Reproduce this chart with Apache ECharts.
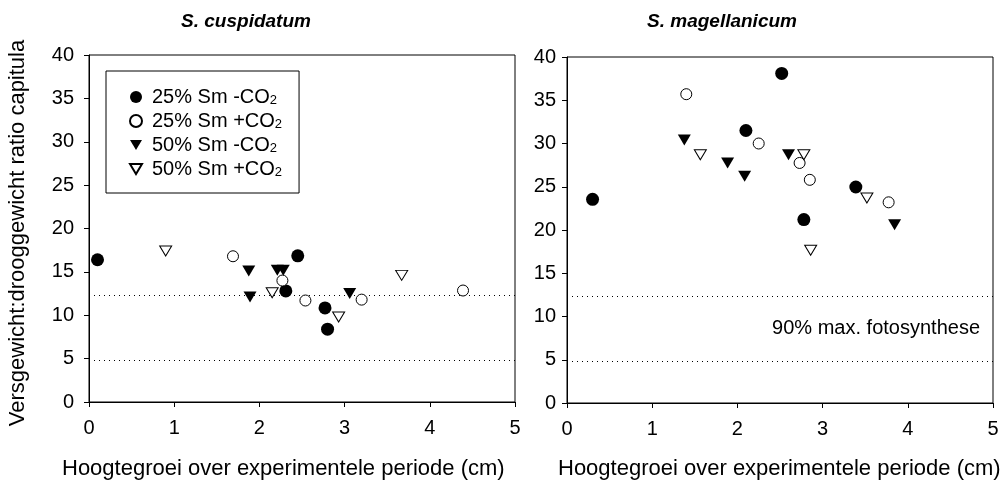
<!DOCTYPE html>
<html>
<head>
<meta charset="utf-8">
<script src="https://cdn.jsdelivr.net/npm/echarts@6/dist/echarts.min.js"></script>
<style>
html,body{margin:0;padding:0;background:#fff;}
#chart{width:1004px;height:486px;}
</style>
</head>
<body>
<div id="chart"></div>
<script>
// ---- data ----
const seriesNames = ['25% Sm -CO2', '25% Sm +CO2', '50% Sm -CO2', '50% Sm +CO2'];
const panelTitles = ['S. cuspidatum', 'S. magellanicum'];
const xTitle = 'Hoogtegroei over experimentele periode (cm)';
const yTitle = 'Versgewicht:drooggewicht ratio capitula';
const annotation = '90% max. fotosynthese';
const refLines = [12.3, 4.8];

// S. cuspidatum
const cusp_25_min = [[0.10, 16.4], [2.31, 12.8], [2.45, 16.85], [2.77, 10.85], [2.80, 8.4]];
const cusp_25_plus = [[1.69, 16.8], [2.27, 14.0], [2.54, 11.7], [3.20, 11.8], [4.39, 12.85]];
const cusp_50_min = [[1.875, 15.1], [1.89, 12.1], [2.21, 15.2], [2.28, 15.2], [3.06, 12.5]];
const cusp_50_plus = [[0.90, 17.4], [2.15, 12.6], [2.93, 9.8], [3.67, 14.6]];

// S. magellanicum
const mag_25_min = [[0.30, 23.55], [2.10, 31.5], [2.52, 38.1], [2.78, 21.2], [3.39, 24.97]];
const mag_25_plus = [[1.40, 35.7], [2.25, 30.0], [2.73, 27.75], [2.85, 25.8], [3.775, 23.2]];
const mag_50_min = [[1.377, 30.4], [1.885, 27.75], [2.085, 26.2], [2.60, 28.7], [3.845, 20.6]];
const mag_50_plus = [[1.565, 28.7], [2.78, 28.7], [3.52, 23.7], [2.86, 17.65]];

// ---- styles ----
const FONT = 'Liberation Sans, Arial, sans-serif';
const TRI_DOWN = 'path://M0,0 L20,0 L10,17 Z';
const styles = [
  {symbol: 'circle', symbolSize: 13, symbolRotate: 0, itemStyle: {color: '#000', borderColor: '#000', borderWidth: 0, opacity: 1}},
  {symbol: 'circle', symbolSize: 11, symbolRotate: 0, itemStyle: {color: '#fff', borderColor: '#000', borderWidth: 1, opacity: 1}},
  {symbol: 'triangle', symbolSize: [13, 11], symbolRotate: 180, itemStyle: {color: '#000', borderColor: '#000', borderWidth: 0, opacity: 1}},
  {symbol: 'triangle', symbolSize: [12, 10], symbolRotate: 180, itemStyle: {color: '#fff', borderColor: '#000', borderWidth: 1, opacity: 1}}
];
const legendIcons = ['circle', 'circle', TRI_DOWN, TRI_DOWN];

const panels = [
  [cusp_25_min, cusp_25_plus, cusp_50_min, cusp_50_plus],
  [mag_25_min, mag_25_plus, mag_50_min, mag_50_plus]
];

const series = [];
panels.forEach((sets, p) => {
  series.push({
    type: 'line', xAxisIndex: p, yAxisIndex: p, data: [], silent: true,
    markLine: {
      silent: true, symbol: 'none', animation: false,
      label: {show: false},
      lineStyle: {color: '#000', width: 1, type: [1, 4], opacity: 1},
      data: refLines.map(v => ({yAxis: v}))
    }
  });
  sets.forEach((d, i) => {
    series.push(Object.assign({
      type: 'scatter', name: seriesNames[i], xAxisIndex: p, yAxisIndex: p, data: d, z: 5
    }, styles[i]));
  });
});

function xAxis(grid) {
  return {
    type: 'value', gridIndex: grid, min: 0, max: 5, interval: 1,
    axisLine: {show: true, onZero: false, lineStyle: {color: '#000', width: 1}},
    axisTick: {show: true, inside: false, length: 5, lineStyle: {color: '#000'}},
    axisLabel: {color: '#000', fontSize: 20, fontFamily: FONT, margin: 16},
    splitLine: {show: false}
  };
}
function yAxis(grid, margin) {
  return {
    type: 'value', gridIndex: grid, min: 0, max: 40, interval: 5,
    axisLine: {show: true, onZero: false, lineStyle: {color: '#000', width: 1}},
    axisTick: {show: true, inside: false, length: 5, lineStyle: {color: '#000'}},
    axisLabel: {color: '#000', fontSize: 20, fontFamily: FONT, margin: margin},
    splitLine: {show: false}
  };
}

const chart = echarts.init(document.getElementById('chart'), null, {renderer: 'canvas'});
chart.setOption({
  animation: false,
  backgroundColor: '#fff',
  grid: [
    {left: 89, top: 55, width: 426, height: 347, show: true, borderColor: '#000', borderWidth: 1, backgroundColor: 'transparent'},
    {left: 567, top: 57, width: 426, height: 346, show: true, borderColor: '#000', borderWidth: 1, backgroundColor: 'transparent'}
  ],
  xAxis: [xAxis(0), xAxis(1)],
  yAxis: [yAxis(0, 15), yAxis(1, 11)],
  legend: {
    data: seriesNames.map((n, i) => ({name: n, icon: legendIcons[i]})),
    orient: 'vertical',
    left: 106, top: 71,
    padding: [16, 17, 14, 23],
    borderColor: '#000', borderWidth: 1,
    itemWidth: 12, itemHeight: 12, itemGap: 4,
    selectedMode: false,
    formatter: n => n.replace(/2$/, '{s|2}'),
    textStyle: {
      color: '#000', fontSize: 20, fontFamily: FONT, padding: [0, 0, 0, 5], lineHeight: 20,
      rich: {s: {fontSize: 13, fontFamily: FONT, color: '#000', verticalAlign: 'bottom', lineHeight: 20, padding: [6, 0, 0, 0]}}
    }
  },
  graphic: [
    {type: 'text', x: 246, y: 22, style: {text: panelTitles[0], align: 'center', verticalAlign: 'middle', font: 'italic bold 19px ' + FONT, fill: '#000'}},
    {type: 'text', x: 722, y: 22, style: {text: panelTitles[1], align: 'center', verticalAlign: 'middle', font: 'italic bold 19px ' + FONT, fill: '#000'}},
    {type: 'text', x: 62, y: 469, style: {text: xTitle, align: 'left', verticalAlign: 'middle', font: '22px ' + FONT, fill: '#000'}},
    {type: 'text', x: 558, y: 469, style: {text: xTitle, align: 'left', verticalAlign: 'middle', font: '22px ' + FONT, fill: '#000'}},
    {type: 'text', x: 18, y: 233, rotation: Math.PI / 2, style: {text: yTitle, align: 'center', verticalAlign: 'middle', font: '22px ' + FONT, fill: '#000'}},
    {type: 'text', x: 980, y: 328, style: {text: annotation, align: 'right', verticalAlign: 'middle', font: '20px ' + FONT, fill: '#000'}}
  ],
  series: series
});
</script>
</body>
</html>
